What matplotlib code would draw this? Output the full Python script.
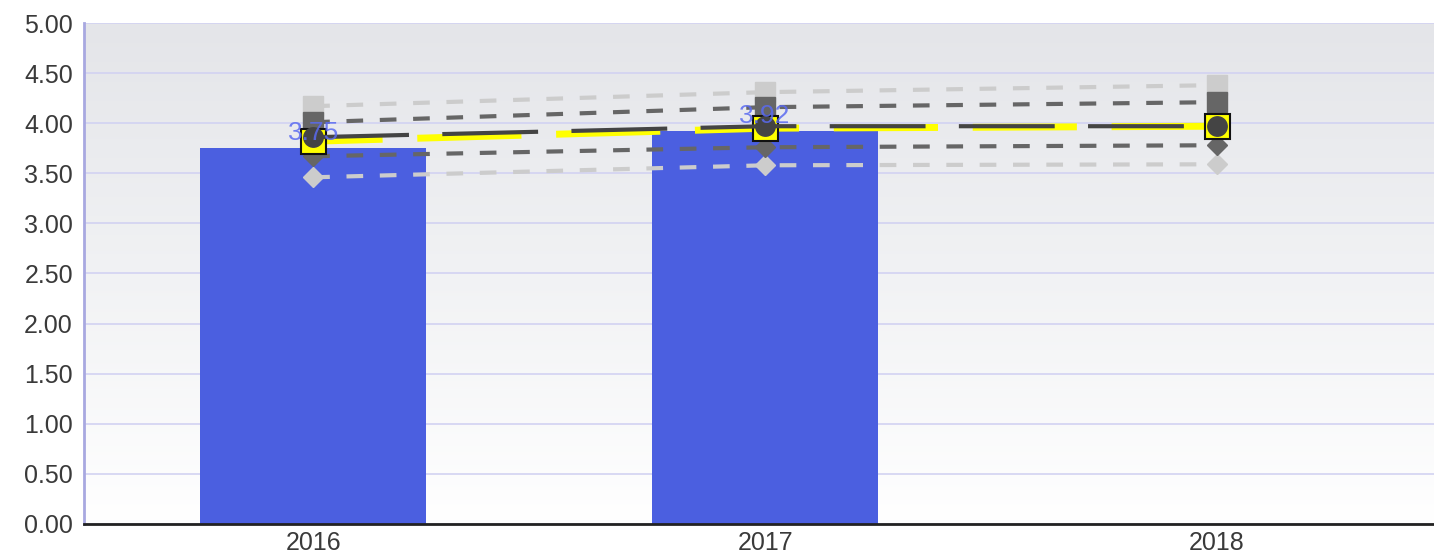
import numpy as np
import matplotlib
matplotlib.use("Agg")
import matplotlib.pyplot as plt

plt.rcParams["font.family"] = ["Liberation Sans", "DejaVu Sans"]

# 資料
years = ["2016", "2017", "2018"]
bar_values = [3.75, 3.92, None]
bar_labels = ["3.75", "3.92"]

mean_yellow = [3.82, 3.95, 3.97]
mean_dark = [3.86, 3.97, 3.97]
upper_light = [4.17, 4.31, 4.38]
upper_dark = [4.01, 4.16, 4.21]
lower_dark = [3.67, 3.76, 3.78]
lower_light = [3.46, 3.58, 3.59]

x = np.arange(len(years))

fig = plt.figure(figsize=(14.34, 5.56), dpi=100)
ax = fig.add_axes([0.0586, 0.0576, 0.9414, 0.901])

# 背景漸層
grad = np.linspace(0, 1, 256).reshape(-1, 1)
ax.imshow(grad, extent=[-0.51, 2.49, 0, 5], aspect="auto", origin="lower",
          cmap=matplotlib.colors.LinearSegmentedColormap.from_list(
              "bg", ["#ffffff", "#f1f2f4", "#e4e5e9"]),
          zorder=0)

ax.set_xlim(-0.507, 2.48)
ax.set_ylim(0, 5)
ax.set_yticks(np.arange(0, 5.01, 0.5))
ax.set_yticklabels([f"{v:.2f}" for v in np.arange(0, 5.01, 0.5)])
ax.set_xticks(x)
ax.set_xticklabels(years)
ax.grid(axis="y", color="#d2d2f2", linewidth=1.2, zorder=1)
ax.tick_params(length=0, labelsize=18, labelcolor="#3a3a3a", pad=8)
ax.tick_params(axis="x", pad=5)

for s in ["top", "right"]:
    ax.spines[s].set_visible(False)
ax.spines["left"].set_color("#a8a8e0")
ax.spines["left"].set_linewidth(2)
ax.spines["bottom"].set_color("#222222")
ax.spines["bottom"].set_linewidth(2)

# 長條
bx = [i for i, v in enumerate(bar_values) if v is not None]
bv = [v for v in bar_values if v is not None]
ax.bar(bx, bv, width=0.5, color="#4b5fe0", zorder=2)
for i, v, t in zip(bx, bv, bar_labels):
    ax.text(i, v + 0.03, t, ha="center", va="bottom", fontsize=19,
            color="#5a6af0", alpha=0.85, zorder=10)

# 灰色虛線
ax.plot(x, upper_light, color="#cccccc", lw=3, linestyle=(0, (4, 4)),
        marker="s", markersize=14, zorder=4)
ax.plot(x, lower_light, color="#cccccc", lw=3, linestyle=(0, (4, 4)),
        marker="D", markersize=10, zorder=4)
ax.plot(x, upper_dark, color="#666666", lw=3, linestyle=(0, (4, 4)),
        marker="s", markersize=14, zorder=4)
ax.plot(x, lower_dark, color="#666666", lw=3, linestyle=(0, (4, 4)),
        marker="D", markersize=10, zorder=4)

# 平均線
ax.plot(x, mean_yellow, color="#ffff00", lw=5, linestyle=(5, (15, 5)),
        marker="s", markersize=18, markerfacecolor="#ffff00",
        markeredgecolor="#111111", markeredgewidth=1.5, zorder=5)
ax.plot(x, mean_dark, color="#444444", lw=3, linestyle=(0, (23, 8)),
        marker="o", markersize=15, markeredgewidth=0, zorder=6)

fig.savefig("out.png", dpi=100)
